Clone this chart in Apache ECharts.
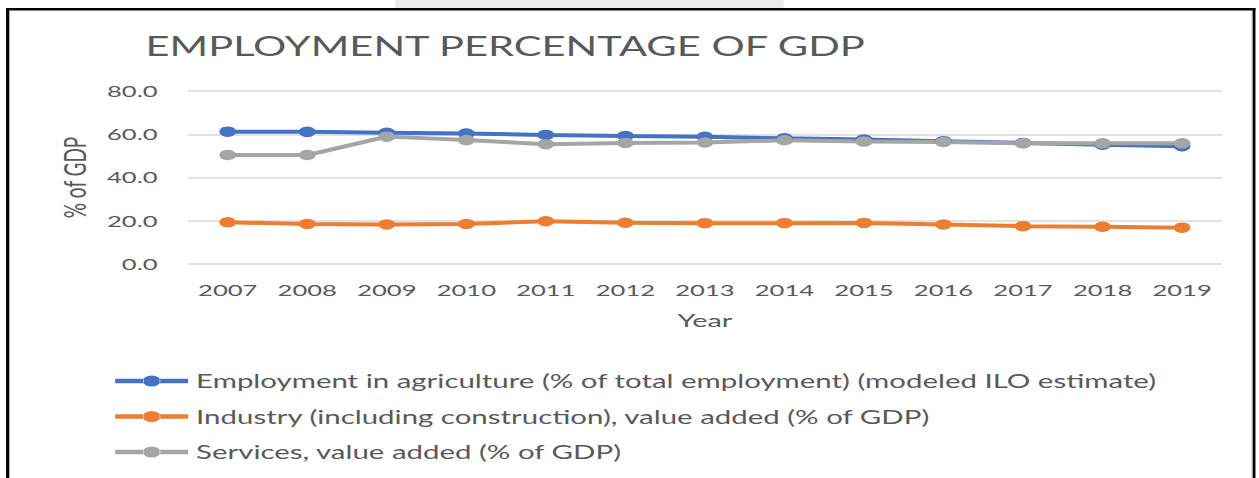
<!DOCTYPE html>
<html>
<head>
<meta charset="utf-8">
<script src="https://cdn.jsdelivr.net/npm/echarts@6/dist/echarts.min.js"></script>
<style>
  html, body { margin: 0; padding: 0; background: #ffffff; overflow: hidden; }
  #stage { width: 1259px; height: 478px; overflow: hidden; position: relative; }
  /* chart laid out narrower, then widened to the page width */
  #chart { width: 787px; height: 478px; transform: scaleX(1.5997); transform-origin: 0 0; }
</style>
</head>
<body>
<div id="stage"><div id="chart"></div></div>
<script>
const years = ['2007', '2008', '2009', '2010', '2011', '2012', '2013', '2014', '2015', '2016', '2017', '2018', '2019'];
const agriculture = [61.2, 61.1, 60.7, 60.3, 59.7, 59.2, 58.8, 58.1, 57.6, 56.8, 56.0, 55.2, 54.5];
const industry = [19.3, 18.5, 18.3, 18.5, 19.8, 19.1, 18.9, 18.9, 19.0, 18.3, 17.5, 17.2, 16.8];
const services = [50.4, 50.4, 58.9, 57.3, 55.4, 56.0, 56.2, 57.2, 56.6, 56.4, 55.8, 55.8, 55.8];
const seriesNames = [
  'Employment in agriculture (% of total employment) (modeled ILO estimate)',
  'Industry (including construction), value added (% of GDP)',
  'Services, value added (% of GDP)'
];
const seriesColors = ['#4472C4', '#ED7D31', '#A5A5A5'];
const yTicks = { min: 0, max: 80, interval: 20 };

const FONT = 'Lato, "Open Sans", sans-serif';
const TEXT = '#595959';

// legend key: thick line with a dot in the middle
const LEGEND_KEY = 'path://M0,3.8 L17.8,3.8 L17.8,8.2 L0,8.2 Z' +
  ' M27.8,3.8 L45.6,3.8 L45.6,8.2 L27.8,8.2 Z' +
  ' M17.3,6 A5.5,5.5 0 1,0 28.3,6 A5.5,5.5 0 1,0 17.3,6 Z';

function lineSeries(name, data, color) {
  return {
    name: name,
    type: 'line',
    data: data,
    symbol: 'circle',
    symbolSize: 10.5,
    lineStyle: { color: color, width: 4 },
    itemStyle: { color: color },
    emphasis: { disabled: true }
  };
}

const chart = echarts.init(document.getElementById('chart'), null, { renderer: 'svg' });
chart.setOption({
  animation: false,
  backgroundColor: '#ffffff',
  title: {
    text: 'EMPLOYMENT PERCENTAGE OF GDP',
    left: 86,
    top: 28,
    textStyle: { fontFamily: FONT, fontSize: 26, fontWeight: 'normal', color: TEXT }
  },
  graphic: [
    { type: 'rect', shape: { x: 247, y: 0, width: 243, height: 8 }, style: { fill: '#ebebeb' }, silent: true },
    { type: 'rect', shape: { x: 3.8, y: 8, width: 1.9, height: 470 }, style: { fill: '#000000' }, silent: true },
    { type: 'rect', shape: { x: 3.8, y: 8, width: 781, height: 2.5 }, style: { fill: '#000000' }, silent: true },
    { type: 'rect', shape: { x: 783, y: 8, width: 1.8, height: 470 }, style: { fill: '#000000' }, silent: true },
    { type: 'rect', shape: { x: 5.8, y: 10.5, width: 0.5, height: 468 }, style: { fill: '#a0a0a0' }, silent: true },
    { type: 'rect', shape: { x: 782.3, y: 10.5, width: 0.5, height: 468 }, style: { fill: '#c8c8c8' }, silent: true }
  ],
  grid: { left: 117.5, right: 23.2, top: 91, bottom: 214, containLabel: false },
  xAxis: {
    type: 'category',
    data: years,
    boundaryGap: true,
    name: 'Year',
    nameLocation: 'middle',
    nameGap: 47,
    nameTextStyle: { fontFamily: FONT, fontSize: 18, color: TEXT },
    axisLine: { show: false },
    axisTick: { show: false },
    axisLabel: { fontFamily: FONT, fontSize: 16, color: TEXT, margin: 18 }
  },
  yAxis: {
    type: 'value',
    min: yTicks.min,
    max: yTicks.max,
    interval: yTicks.interval,
    name: '% of GDP',
    nameLocation: 'middle',
    nameGap: 62,
    nameTextStyle: { fontFamily: FONT, fontSize: 19, color: TEXT },
    axisLine: { show: false },
    axisTick: { show: false },
    axisLabel: {
      fontFamily: FONT, fontSize: 16, color: TEXT, margin: 19,
      formatter: v => v.toFixed(1)
    },
    splitLine: { lineStyle: { color: '#d9d9d9', width: 1.5 } }
  },
  legend: {
    orient: 'vertical',
    left: 67,
    top: 367,
    icon: LEGEND_KEY,
    itemWidth: 45.6,
    itemHeight: 11,
    itemGap: 17.5,
    textStyle: { fontFamily: FONT, fontSize: 18.4, color: TEXT },
    data: seriesNames
  },
  series: [
    lineSeries(seriesNames[0], agriculture, seriesColors[0]),
    lineSeries(seriesNames[1], industry, seriesColors[1]),
    lineSeries(seriesNames[2], services, seriesColors[2])
  ]
});
</script>
</body>
</html>
